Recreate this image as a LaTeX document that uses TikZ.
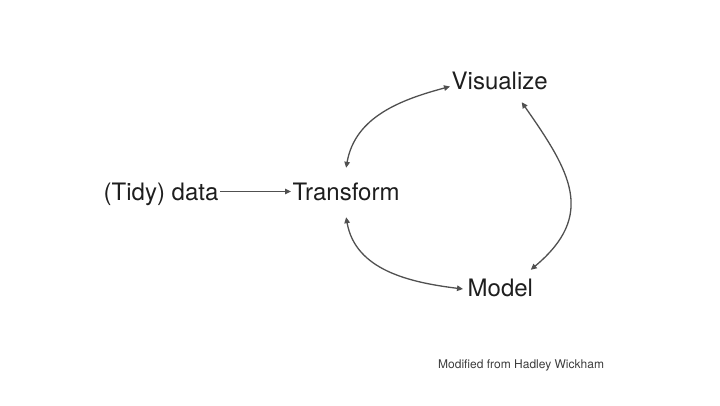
\documentclass[tikz,border=0pt]{standalone}
\usepackage{fontspec}
\setmainfont{TeX Gyre Heros}
\usetikzlibrary{arrows.meta}
\definecolor{txtcol}{HTML}{1E1E1E}
\definecolor{arrcol}{HTML}{505050}
\definecolor{notecol}{HTML}{3C3C3C}
\begin{document}
\begin{tikzpicture}[x=1pt,y=1pt,
    word/.style={anchor=base west,inner xsep=1.5pt,inner ysep=2pt,
      text height=17pt,text depth=0pt,text=txtcol,
      font=\fontsize{24}{28}\selectfont},
    link/.style={draw=arrcol,line width=1.3pt,
      arrows={-Triangle[length=6pt,width=5.5pt]}},
    twoway/.style={link,
      arrows={Triangle[length=6pt,width=5.5pt]-Triangle[length=6pt,width=5.5pt]}}]
  \useasboundingbox (0,0) rectangle (720,405);
  \node[word](Data)      at(102,205) {(Tidy) data};
  \node[word](Transform) at(291,205) {Transform};
  \node[word](Visualize) at(450,315) {Visualize};
  \node[word](Model)     at(466,109) {Model};
  \node[anchor=base west,inner sep=0pt,text=notecol,
    font=\fontsize{12}{14}\selectfont](Note) at(438,37) {Modified from Hadley Wickham};

  \draw[link](Data.east)--(Transform.west);
  \draw[twoway]([yshift=13pt]Transform.north) to[out=80,in=195]
    ([yshift=-5pt]Visualize.west);
  \draw[twoway]([xshift=22pt,yshift=-10pt]Visualize.south) to[out=-55,in=40,looseness=1.3]
    ([xshift=-4pt,yshift=7pt]Model.north east);
  \draw[twoway]([yshift=-15pt]Transform.south) to[out=-80,in=173]
    ([xshift=-3pt,yshift=-1.5pt]Model.west);
\end{tikzpicture}
\end{document}
